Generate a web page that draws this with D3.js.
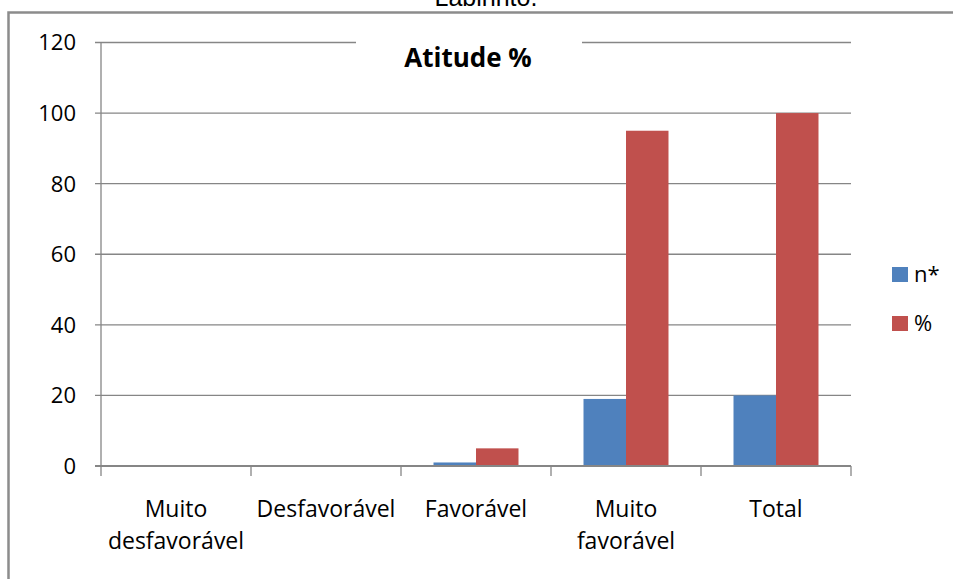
<!DOCTYPE html>
<html>
<head>
<meta charset="utf-8">
<script src="https://cdn.jsdelivr.net/npm/d3@7"></script>
<style>
  html, body { margin: 0; padding: 0; background: #fff; }
  svg { display: block; }
</style>
</head>
<body>
<svg id="chart" width="953" height="579"></svg>
<script>
// Attitude distribution: counts (n*) and percentages per category
const categories = [["Muito", "desfavorável"], ["Desfavorável"], ["Favorável"], ["Muito", "favorável"], ["Total"]];
const seriesNames = ["n*", "%"];
const countValues = [0, 0, 1, 19, 20];
const percentValues = [0, 0, 5, 95, 100];
const yTicks = [0, 20, 40, 60, 80, 100, 120];
const seriesColors = ["#4F81BD", "#C0504D"];

const svg = d3.select("#chart");
const W = 953, H = 579;
const plotLeft = 101, plotRight = 851, plotTop = 42.5, plotBottom = 466;
const font = "'Open Sans', sans-serif";
const gridColor = "#868686";

// Caption fragment above the frame
svg.append("text")
  .attr("x", 486).attr("y", 6)
  .attr("text-anchor", "middle")
  .attr("font-family", "'Liberation Sans', Arial, sans-serif")
  .attr("font-size", 25)
  .attr("fill", "#000")
  .text("Labirinto.");

// Frame (top and left edges)
svg.append("path")
  .attr("d", `M8.5,${H} L8.5,12.5 L${W},12.5`)
  .attr("fill", "none")
  .attr("stroke", "#8c8c8c")
  .attr("stroke-width", 2.5);

const keys = categories.map((c, i) => i);
const x0 = d3.scaleBand().domain(keys).range([plotLeft, plotRight]);
const x1 = d3.scaleBand().domain(seriesNames)
  .range([x0.bandwidth() * 0.2167, x0.bandwidth() * 0.7833]);
const y = d3.scaleLinear().domain([0, 120]).range([plotBottom, plotTop]);

// Horizontal gridlines with left tick stubs
svg.append("g").selectAll("line").data(yTicks).join("line")
  .attr("x1", plotLeft - 6).attr("x2", plotRight)
  .attr("y1", d => y(d)).attr("y2", d => y(d))
  .attr("stroke", gridColor)
  .attr("stroke-width", d => d === 0 ? 2 : 1.3);

// Y tick labels
svg.append("g").selectAll("text").data(yTicks).join("text")
  .attr("x", 76)
  .attr("y", d => y(d))
  .attr("dy", "0.36em")
  .attr("text-anchor", "end")
  .attr("font-family", font)
  .attr("font-size", 22)
  .attr("fill", "#000")
  .text(d => d);

// Vertical value axis line
svg.append("line")
  .attr("x1", plotLeft).attr("x2", plotLeft)
  .attr("y1", plotTop).attr("y2", plotBottom)
  .attr("stroke", gridColor).attr("stroke-width", 1.3);

// Category boundary ticks below the baseline
const boundaries = keys.map(k => x0(k)).concat([plotRight]);
svg.append("g").selectAll("line").data(boundaries).join("line")
  .attr("x1", d => d).attr("x2", d => d)
  .attr("y1", plotBottom).attr("y2", plotBottom + 10)
  .attr("stroke", gridColor).attr("stroke-width", 1.3);

// Bars
const rows = keys.map(i => ({ i, vals: [countValues[i], percentValues[i]] }));
const groups = svg.append("g").selectAll("g").data(rows).join("g")
  .attr("transform", d => `translate(${x0(d.i)},0)`);
groups.selectAll("rect")
  .data(d => d.vals.map((v, s) => ({ v, s })))
  .join("rect")
  .attr("x", d => x1(seriesNames[d.s]))
  .attr("width", x1.bandwidth())
  .attr("y", d => y(d.v))
  .attr("height", d => Math.max(0, y(0) - y(d.v) - 1))
  .attr("fill", d => seriesColors[d.s]);

// Category labels
svg.append("g").selectAll("text").data(keys).join("text")
  .attr("x", k => x0(k) + x0.bandwidth() / 2)
  .attr("y", 517)
  .attr("text-anchor", "middle")
  .attr("font-family", font)
  .attr("font-size", 23)
  .attr("fill", "#000")
  .each(function (k) {
    const t = d3.select(this);
    categories[k].forEach((line, li) => {
      t.append("tspan")
        .attr("x", x0(k) + x0.bandwidth() / 2)
        .attr("dy", li === 0 ? 0 : 31.5)
        .text(line);
    });
  });

// Title with white backing over the top gridline
svg.append("rect")
  .attr("x", 356).attr("y", 30).attr("width", 226).attr("height", 50)
  .attr("fill", "#fff");
svg.append("text")
  .attr("x", 468).attr("y", 67)
  .attr("text-anchor", "middle")
  .attr("font-family", font)
  .attr("font-weight", "bold")
  .attr("font-size", 26)
  .attr("fill", "#000")
  .text("Atitude %");

// Legend
const legend = svg.append("g").selectAll("g").data(seriesNames).join("g")
  .attr("transform", (d, i) => `translate(892,${267 + i * 49})`);
legend.append("rect")
  .attr("width", 16).attr("height", 15)
  .attr("fill", (d, i) => seriesColors[i]);
legend.append("text")
  .attr("x", 22).attr("y", 15)
  .attr("font-family", font)
  .attr("font-size", 22)
  .attr("fill", "#000")
  .text(d => d);
</script>
</body>
</html>
